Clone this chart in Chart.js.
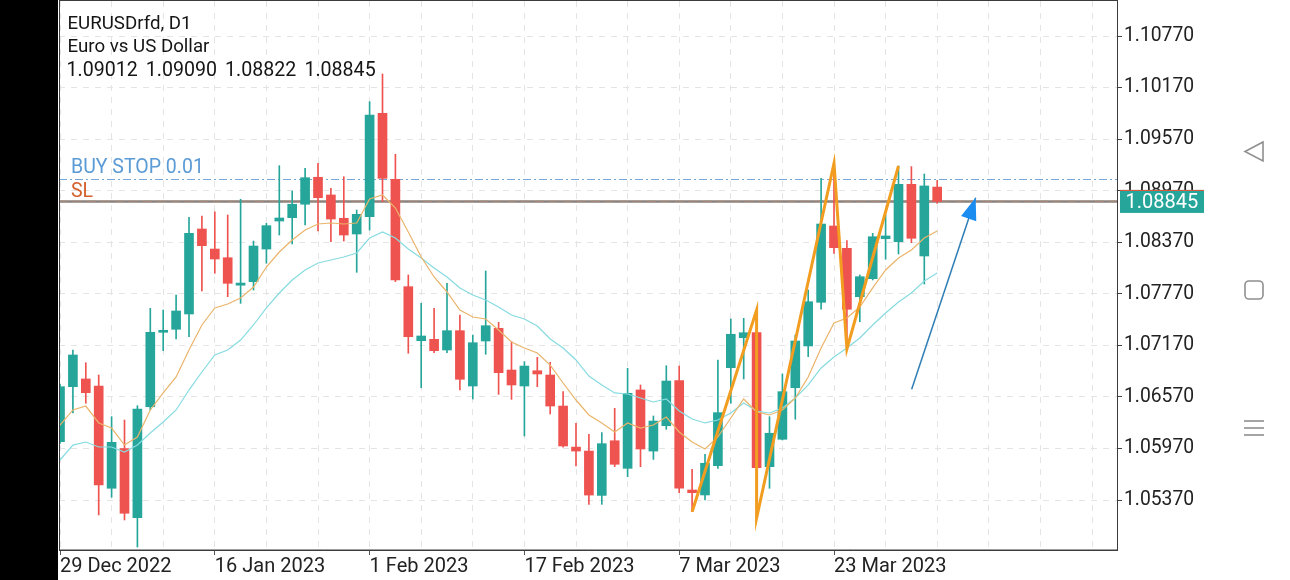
<!DOCTYPE html>
<html>
<head>
<meta charset="utf-8">
<script src="https://cdn.jsdelivr.net/npm/chart.js@4.4.1/dist/chart.umd.min.js"></script>
<style>
html,body{margin:0;padding:0;background:#fff;}
#wrap{width:1290px;height:580px;position:relative;}
</style>
</head>
<body>
<div id="wrap"><canvas id="c"></canvas></div>
<script>
// ---------- DATA ----------
const dates = ['29 Dec 2022','30 Dec 2022','2 Jan 2023','3 Jan 2023','4 Jan 2023','5 Jan 2023','6 Jan 2023','9 Jan 2023','10 Jan 2023','11 Jan 2023','12 Jan 2023','13 Jan 2023','16 Jan 2023','17 Jan 2023','18 Jan 2023','19 Jan 2023','20 Jan 2023','23 Jan 2023','24 Jan 2023','25 Jan 2023','26 Jan 2023','27 Jan 2023','30 Jan 2023','31 Jan 2023','1 Feb 2023','2 Feb 2023','3 Feb 2023','6 Feb 2023','7 Feb 2023','8 Feb 2023','9 Feb 2023','10 Feb 2023','13 Feb 2023','14 Feb 2023','15 Feb 2023','16 Feb 2023','17 Feb 2023','20 Feb 2023','21 Feb 2023','22 Feb 2023','23 Feb 2023','24 Feb 2023','27 Feb 2023','28 Feb 2023','1 Mar 2023','2 Mar 2023','3 Mar 2023','6 Mar 2023','7 Mar 2023','8 Mar 2023','9 Mar 2023','10 Mar 2023','13 Mar 2023','14 Mar 2023','15 Mar 2023','16 Mar 2023','17 Mar 2023','20 Mar 2023','21 Mar 2023','22 Mar 2023','23 Mar 2023','24 Mar 2023','27 Mar 2023','28 Mar 2023','29 Mar 2023','30 Mar 2023','31 Mar 2023','3 Apr 2023','4 Apr 2023'];

const opens = [1.06049,1.06689,1.06779,1.06697,1.05507,1.05969,1.05165,1.06456,1.07322,1.07357,
1.07535,1.08524,1.08291,1.08190,1.07870,1.07911,1.08291,1.08617,1.08656,1.08812,
1.09126,1.08920,1.08649,1.08466,1.08668,1.09870,1.09102,1.07853,1.07224,1.07240,
1.07116,1.07341,1.06697,1.07221,1.07368,1.06883,1.06697,1.06875,1.06825,1.06464,
1.05986,1.05940,1.05424,1.06060,1.05739,1.06651,1.05940,1.06235,1.06759,1.05487,
1.05429,1.05770,1.06910,1.07259,1.07320,1.05758,1.06077,1.06677,1.07163,1.07671,
1.08559,1.08299,1.07736,1.07946,1.08411,1.08376,1.09044,1.08210,1.09012];

const highs = [1.06720,1.07116,1.06968,1.06825,1.06340,1.06301,1.06468,1.07601,1.07581,1.07756,
1.08660,1.08675,1.08725,1.08687,1.08870,1.08384,1.08590,1.09261,1.08966,1.09231,
1.09289,1.08998,1.09133,1.08745,1.10005,1.10328,1.09393,1.07989,1.07659,1.07601,
1.07892,1.07523,1.07290,1.08035,1.07438,1.07213,1.06980,1.07031,1.06973,1.06631,
1.06263,1.06135,1.06155,1.06437,1.06903,1.06709,1.06348,1.06933,1.06930,1.05728,
1.05902,1.07000,1.07477,1.07485,1.07581,1.06340,1.06837,1.07290,1.07814,1.09114,
1.09289,1.08388,1.07989,1.08474,1.08687,1.09257,1.09250,1.09164,1.09090];

const lows = [1.06030,1.06383,1.06496,1.05196,1.05402,1.05138,1.04823,1.06418,1.07108,1.07244,
1.07271,1.07803,1.08009,1.07736,1.07659,1.07814,1.08125,1.08454,1.08350,1.08571,
1.08501,1.08376,1.08384,1.08020,1.08512,1.08842,1.07911,1.07078,1.06677,1.07085,
1.07085,1.06651,1.06546,1.07066,1.06600,1.06542,1.06115,1.06689,1.06371,1.05984,
1.05766,1.05320,1.05320,1.05758,1.05642,1.05758,1.05843,1.06193,1.05456,1.05234,
1.05370,1.05739,1.06496,1.06779,1.05161,1.05507,1.06069,1.06310,1.07038,1.07590,
1.08241,1.07128,1.07445,1.07931,1.08172,1.08233,1.08365,1.07884,1.08822];

const closes = [1.06689,1.07058,1.06619,1.05545,1.06042,1.05216,1.06429,1.07322,1.07345,1.07570,
1.08474,1.08330,1.08175,1.07892,1.07895,1.08326,1.08563,1.08652,1.08812,1.09121,
1.08888,1.08640,1.08454,1.08695,1.09851,1.09114,1.07931,1.07271,1.07279,1.07108,
1.07341,1.06775,1.07201,1.07399,1.06852,1.06709,1.06929,1.06837,1.06464,1.05999,
1.05940,1.05428,1.06026,1.05786,1.06612,1.05964,1.06289,1.06755,1.05507,1.05456,
1.05798,1.06387,1.07299,1.07317,1.05746,1.06147,1.06631,1.07221,1.07678,1.08582,
1.08307,1.07590,1.07969,1.08434,1.08443,1.09044,1.08416,1.09025,1.08845];

// fast moving average (thin orange)
const maFast = [1.06243,1.06418,1.06464,1.06267,1.06208,1.06010,1.06104,1.06418,1.06616,1.06802,
1.07116,1.07407,1.07605,1.07651,1.07721,1.07849,1.08082,1.08256,1.08396,1.08512,
1.08582,1.08594,1.08582,1.08594,1.08873,1.08920,1.08768,1.08489,1.08198,1.07966,
1.07791,1.07581,1.07500,1.07477,1.07349,1.07209,1.07139,1.07081,1.06941,1.06732,
1.06534,1.06360,1.06267,1.06162,1.06267,1.06208,1.06243,1.06336,1.06162,1.06045,
1.05964,1.06104,1.06325,1.06546,1.06395,1.06360,1.06418,1.06557,1.06802,1.07139,
1.07430,1.07488,1.07616,1.07838,1.08047,1.08187,1.08280,1.08419,1.08501];

// slow moving average (thin cyan)
const maSlow = [1.05836,1.06010,1.06045,1.05987,1.05987,1.05929,1.06010,1.06150,1.06278,1.06418,
1.06650,1.06860,1.07058,1.07116,1.07232,1.07407,1.07605,1.07779,1.07931,1.08047,
1.08128,1.08163,1.08198,1.08245,1.08419,1.08489,1.08419,1.08291,1.08187,1.08070,
1.07966,1.07838,1.07756,1.07698,1.07616,1.07523,1.07477,1.07395,1.07244,1.07139,
1.07000,1.06813,1.06709,1.06616,1.06604,1.06557,1.06511,1.06546,1.06406,1.06313,
1.06267,1.06301,1.06383,1.06499,1.06406,1.06383,1.06441,1.06557,1.06709,1.06907,
1.07035,1.07139,1.07256,1.07407,1.07547,1.07675,1.07779,1.07919,1.08012];

// zigzag (thick orange) vertices: bar index and price
const zigzagIdx   = [49, 54, 54, 60, 61, 65];
const zigzagPrice = [1.05234, 1.07581, 1.05161, 1.09289, 1.07128, 1.09257];

// hand-drawn arrow: from (bar index, price) to tip
const arrowIdx   = [66.02, 70.98];
const arrowPrice = [1.06659, 1.08888];

// price-axis ticks and time-axis label bars
const yTicks = [1.05370,1.05970,1.06570,1.07170,1.07770,1.08370,1.08970,1.09570,1.10170,1.10770];
const xLabelIdx = [0, 12, 24, 36, 48, 60];

// order lines and texts
const buyStopPrice = 1.09110;
const slPrice = 1.08845;
const lastPrice = 1.08845;
const headerTitle = ['EURUSDrfd, D1', 'Euro vs US Dollar'];
const headerOHLC = ['1.09012', '1.09090', '1.08822', '1.08845'];
const buyStopText = 'BUY STOP 0.01';
const slText = 'SL';

// ---------- STYLE ----------
const GREEN = '#26a69a', RED = '#ef5350';
const FONT = 'Roboto';

const idx = dates.map((_, i) => i);
const candleColors = idx.map(i => closes[i] >= opens[i] ? GREEN : RED);

const bodies = idx.map(i => ({x: i, y: [opens[i], closes[i]]}));
const wicks  = idx.map(i => ({x: i, y: [lows[i], highs[i]]}));
const fastPts = idx.map(i => ({x: i, y: maFast[i]}));
const slowPts = idx.map(i => ({x: i, y: maSlow[i]}));
const zzPts = zigzagIdx.map((v, k) => ({x: v, y: zigzagPrice[k]}));
const arrowPts = arrowIdx.map((v, k) => ({x: v, y: arrowPrice[k]}));

// pixel geometry of the reference (chart area 59..1117 x 1..550, 12.9 px per bar)
const PX_PER_BAR = 12.9;
const AREA_W = 1117 - 59;
const xMin = -1 / PX_PER_BAR;
const xMax = xMin + AREA_W / PX_PER_BAR;
const yMin = 1.047886, yMax = 1.111773;

const decor = {
  id: 'decor',
  beforeDraw(chart) {
    const {ctx, width, height} = chart;
    ctx.save();
    ctx.fillStyle = '#ffffff';
    ctx.fillRect(0, 0, width, height);
    ctx.fillStyle = '#000000';
    ctx.fillRect(0, 0, 58, height);
    // phone navigation icons
    ctx.strokeStyle = '#8f8f8f';
    ctx.lineWidth = 1.6;
    ctx.beginPath();
    ctx.moveTo(1263, 142); ctx.lineTo(1245, 151.5); ctx.lineTo(1263, 161); ctx.closePath();
    ctx.stroke();
    ctx.beginPath();
    ctx.roundRect(1245, 281, 18, 18, 4);
    ctx.stroke();
    for (let k = 0; k < 3; k++) {
      ctx.beginPath();
      ctx.moveTo(1244, 421 + k * 7); ctx.lineTo(1264, 421 + k * 7);
      ctx.stroke();
    }
    ctx.restore();
  },
  beforeDatasetsDraw(chart) {
    const {ctx, chartArea: a, scales: {y}} = chart;
    ctx.save();
    ctx.beginPath(); ctx.rect(a.left, a.top, a.right - a.left, a.bottom - a.top); ctx.clip();
    const yb = Math.round(y.getPixelForValue(buyStopPrice)) + 0.5;
    ctx.strokeStyle = '#74a6d6'; ctx.lineWidth = 1; ctx.setLineDash([8, 3, 2, 3]);
    ctx.beginPath(); ctx.moveTo(a.left, yb); ctx.lineTo(a.right, yb); ctx.stroke();
    const ys = y.getPixelForValue(slPrice);
    ctx.setLineDash([]); ctx.strokeStyle = '#8a817c'; ctx.lineWidth = 2.5;
    ctx.beginPath(); ctx.moveTo(a.left, ys); ctx.lineTo(a.right, ys); ctx.stroke();
    ctx.setLineDash([9, 5]); ctx.strokeStyle = '#a58575'; ctx.lineWidth = 1;
    ctx.beginPath(); ctx.moveTo(a.left, ys); ctx.lineTo(a.right, ys); ctx.stroke();
    ctx.restore();
  },
  afterDatasetsDraw(chart) {
    const {ctx, scales: {x, y}} = chart;
    const x0 = x.getPixelForValue(arrowIdx[0]), y0 = y.getPixelForValue(arrowPrice[0]);
    const x1 = x.getPixelForValue(arrowIdx[1]), y1 = y.getPixelForValue(arrowPrice[1]);
    const len = Math.hypot(x1 - x0, y1 - y0);
    const ux = (x1 - x0) / len, uy = (y1 - y0) / len;
    const hl = 22, hw = 8;
    const bx = x1 - ux * hl, by = y1 - uy * hl;
    ctx.save();
    ctx.fillStyle = '#1b8cf0';
    ctx.beginPath();
    ctx.moveTo(x1, y1);
    ctx.lineTo(bx - uy * hw, by + ux * hw);
    ctx.lineTo(bx + uy * hw, by - ux * hw);
    ctx.closePath();
    ctx.fill();
    ctx.restore();
  },
  afterDraw(chart) {
    const {ctx, chartArea: a, scales: {y}} = chart;
    ctx.save();
    // frame
    ctx.strokeStyle = '#3c3c3c'; ctx.lineWidth = 1;
    ctx.strokeRect(a.left + 0.5, a.top - 0.5, a.right - a.left, a.bottom - a.top + 0.5);
    // header
    ctx.fillStyle = '#151515';
    ctx.textBaseline = 'alphabetic';
    ctx.textAlign = 'left';
    ctx.font = '18.7px ' + FONT;
    ctx.fillText(headerTitle[0], 67.5, 29.3);
    ctx.fillText(headerTitle[1], 67.5, 51.7);
    ctx.font = '19.6px ' + FONT;
    headerOHLC.forEach((t, k) => ctx.fillText(t, 66.5 + k * 79.3, 76));
    // order labels
    const yb = y.getPixelForValue(buyStopPrice);
    const ys = y.getPixelForValue(slPrice);
    ctx.font = '19.5px ' + FONT;
    ctx.fillStyle = '#5b9bd5';
    ctx.fillText(buyStopText, 71, yb - 5.8);
    ctx.fillStyle = '#d4602c';
    ctx.fillText(slText, 71, ys - 4.5);
    // last price box
    const yl = y.getPixelForValue(lastPrice);
    ctx.fillStyle = GREEN;
    ctx.fillRect(1120, yl - 11.5, 84, 23);
    ctx.fillStyle = '#e4553c';
    ctx.fillRect(1120, yl - 11.5, 84, 1);
    ctx.fillStyle = '#ffffff';
    ctx.font = '20px ' + FONT;
    ctx.fillText(lastPrice.toFixed(5), 1125.5, yl + 7);
    ctx.restore();
  }
};

new Chart(document.getElementById('c'), {
  type: 'bar',
  data: {
    datasets: [
      { type: 'line', label: 'zigzag', data: zzPts, borderColor: '#f29d1f', borderWidth: 3,
        pointRadius: 0, tension: 0, order: 0 },
      { type: 'line', label: 'arrow', data: arrowPts, borderColor: '#2f7db6', borderWidth: 1.5,
        pointRadius: 0, tension: 0, order: 1 },
      { type: 'line', label: 'MA fast', data: fastPts, borderColor: '#eab46a', borderWidth: 1.2,
        pointRadius: 0, tension: 0, order: 2 },
      { type: 'line', label: 'MA slow', data: slowPts, borderColor: '#86dbe0', borderWidth: 1.2,
        pointRadius: 0, tension: 0, order: 3 },
      { type: 'bar', label: 'body', data: bodies, backgroundColor: candleColors, borderWidth: 0,
        barThickness: 9, grouped: false, minBarLength: 2, order: 4 },
      { type: 'bar', label: 'wick', data: wicks, backgroundColor: candleColors, borderWidth: 0,
        barThickness: 1, grouped: false, order: 5 }
    ]
  },
  options: {
    responsive: true,
    maintainAspectRatio: false,
    animation: false,
    devicePixelRatio: 1,
    layout: { padding: { left: 59, top: 1, right: 0, bottom: 0 } },
    plugins: { legend: { display: false }, tooltip: { enabled: false } },
    scales: {
      x: {
        type: 'linear',
        min: xMin, max: xMax,
        offset: false,
        afterBuildTicks(scale) {
          const t = [];
          for (let v = 0; v <= xMax; v += 4) t.push({ value: v });
          scale.ticks = t;
        },
        afterFit(scale) {
          scale.height = 30;
          scale.paddingLeft = 0; scale.paddingRight = 0;
        },
        grid: {
          offset: false,
          color: '#e4e4e4',
          lineWidth: 1,
          drawTicks: true,
          tickLength: 5,
          tickColor: (c) => (c.tick && xLabelIdx.includes(c.tick.value)) ? '#555555' : 'rgba(0,0,0,0)'
        },
        border: { display: true, color: '#3c3c3c', width: 1, dash: [6, 6] },
        ticks: {
          autoSkip: false, maxRotation: 0, minRotation: 0, align: 'start', padding: 0,
          color: '#222222', font: { family: FONT, size: 20 },
          callback: (v) => xLabelIdx.includes(v) ? dates[v] : ''
        }
      },
      y: {
        type: 'linear',
        position: 'right',
        min: yMin, max: yMax,
        afterBuildTicks(scale) { scale.ticks = yTicks.map(v => ({ value: v })); },
        afterFit(scale) {
          scale.width = 173;
          scale.paddingTop = 0; scale.paddingBottom = 0;
        },
        grid: { color: '#e4e4e4', lineWidth: 1, tickLength: 5, tickColor: '#444444' },
        border: { display: true, color: '#3c3c3c', width: 1, dash: [6, 6] },
        ticks: {
          padding: 2, color: '#222222', font: { family: FONT, size: 19.3 },
          callback: (v) => Number(v).toFixed(5)
        }
      }
    }
  },
  plugins: [decor]
});
</script>
</body>
</html>
